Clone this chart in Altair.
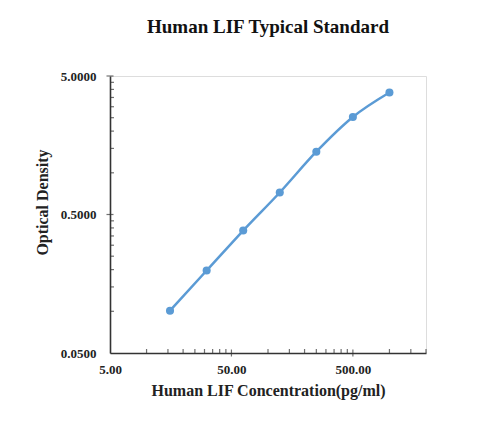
import altair as alt
import pandas as pd

# Data
conc = [15.6, 31.25, 62.5, 125, 250, 500, 1000]
od = [0.101, 0.197, 0.383, 0.721, 1.42, 2.53, 3.80]

x_major = [5, 50, 500]
x_minor = [10, 15, 20, 25, 30, 35, 40, 45,
           100, 150, 200, 250, 300, 350, 400, 450,
           1000, 1500, 2000]
y_major = [0.05, 0.5, 5]
y_minor = [0.1, 0.15, 0.2, 0.25, 0.3, 0.35, 0.4, 0.45,
           1.0, 1.5, 2.0, 2.5, 3.0, 3.5, 4.0, 4.5]

FONT = "Liberation Serif"
BLUE = "#5B9BD5"
AX = "#333333"

df = pd.DataFrame({"conc": conc, "od": od})

xscale = alt.Scale(type="log", domain=[5, 2000], nice=False)
yscale = alt.Scale(type="log", domain=[0.05, 5], nice=False)

xaxis = alt.Axis(
    title="Human LIF Concentration(pg/ml)", values=x_major, format=".2f",
    grid=False, ticks=False, domainColor=AX, domainWidth=1.6, labelFlush=False,
    labelFont=FONT, labelFontWeight="bold", labelFontSize=13, labelColor="#222",
    labelPadding=10, titleFont=FONT, titleFontWeight="bold", titleFontSize=16,
    titleColor="#222", titlePadding=6,
)
yaxis = alt.Axis(
    title="Optical Density", values=y_major, format=".4f",
    grid=False, ticks=False, domainColor=AX, domainWidth=1.6, labelFlush=False,
    labelFont=FONT, labelFontWeight="bold", labelFontSize=13, labelColor="#222",
    labelPadding=14, titleFont=FONT, titleFontWeight="bold", titleFontSize=16,
    titleColor="#222", titlePadding=10, titleY=126,
)

base = alt.Chart(df)
line = base.mark_line(color=BLUE, strokeWidth=2.5, interpolate="monotone").encode(
    x=alt.X("conc:Q", scale=xscale, axis=xaxis),
    y=alt.Y("od:Q", scale=yscale, axis=yaxis),
)
pts = base.mark_circle(color=BLUE, size=65, opacity=1).encode(
    x=alt.X("conc:Q", scale=xscale),
    y=alt.Y("od:Q", scale=yscale),
)

xt_minor = alt.Chart(pd.DataFrame({"conc": x_minor, "od": [0.05] * len(x_minor)})).mark_tick(
    orient="vertical", size=4, thickness=1.2, color=AX, yOffset=-2
).encode(x=alt.X("conc:Q", scale=xscale), y=alt.Y("od:Q", scale=yscale))
xt_major = alt.Chart(pd.DataFrame({"conc": x_major[1:], "od": [0.05] * 2})).mark_tick(
    orient="vertical", size=7, thickness=1.2, color=AX
).encode(x=alt.X("conc:Q", scale=xscale), y=alt.Y("od:Q", scale=yscale))
yt_minor = alt.Chart(pd.DataFrame({"od": y_minor, "conc": [5] * len(y_minor)})).mark_tick(
    orient="horizontal", size=4, thickness=1.2, color=AX, xOffset=2
).encode(x=alt.X("conc:Q", scale=xscale), y=alt.Y("od:Q", scale=yscale))
yt_major = alt.Chart(pd.DataFrame({"od": y_major[1:], "conc": [5] * 2})).mark_tick(
    orient="horizontal", size=7, thickness=1.2, color=AX
).encode(x=alt.X("conc:Q", scale=xscale), y=alt.Y("od:Q", scale=yscale))

chart = alt.layer(line, xt_minor, xt_major, yt_minor, yt_major, pts).properties(
    width=316, height=277,
    autosize=alt.AutoSizeParams(type="none"),
    padding={"left": 102, "top": 68, "right": 47, "bottom": 65},
    title=alt.TitleParams(
        "Human LIF  Typical Standard", font=FONT, fontWeight="bold", fontSize=19,
        color="#111", anchor="middle", offset=33,
    ),
).configure_view(strokeWidth=0).configure(background="white")

chart.save("out.html", embed_options={"renderer": "svg", "actions": False})
